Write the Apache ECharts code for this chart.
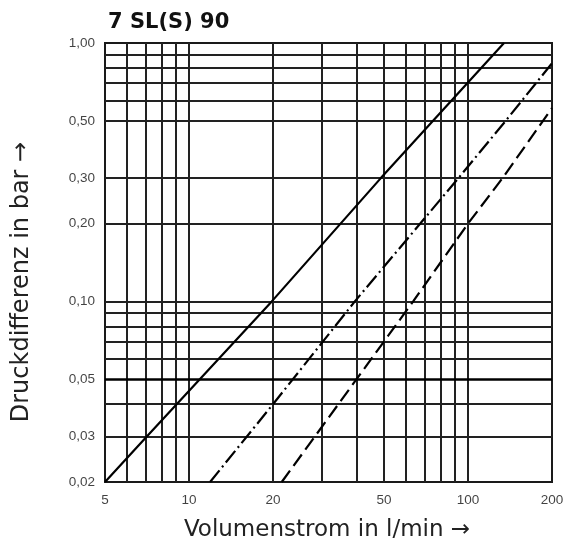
<!DOCTYPE html>
<html><head><meta charset="utf-8">
<script src="https://cdn.jsdelivr.net/npm/echarts@6/dist/echarts.min.js"></script>
<style>html,body{margin:0;padding:0;background:#fff}#c{width:574px;height:555px}</style>
</head><body><div id="c"></div>
<script>
const titleText = '7 SL(S) 90';
const xName = 'Volumenstrom in l/min →';
const yName = 'Druckdifferenz in bar →';
const xGrid = [6,7,8,9,10,20,30,40,50,60,70,80,90,100];
const yGrid = [0.03,0.04,0.06,0.07,0.08,0.09,0.1,0.2,0.3,0.5,0.6,0.7,0.8,0.9];
const yGridBold = [0.05];
const xTickVals = [5,10,20,50,100,200];
const xTickText = ['5','10','20','50','100','200'];
const yTickVals = [0.02,0.03,0.05,0.1,0.2,0.3,0.5,1.0];
const yTickText = ['0,02','0,03','0,05','0,10','0,20','0,30','0,50','1,00'];
const solidQ = [5,7.06,19.8,48.7,134.6];
const solidP = [0.02,0.03,0.1,0.3,1.0];
const dashDotQ = [11.9,20,39.3,92.4,136.5,200];
const dashDotP = [0.02,0.04,0.1,0.3,0.5,0.835];
const dashedQ = [21.5,63.6,100,133,200];
const dashedP = [0.02,0.1,0.2,0.3,0.56];

const chart = echarts.init(document.getElementById('c'));
const pairs = (a,b) => a.map((v,i)=>[v,b[i]]);
const tickFont = {fontFamily:'Liberation Sans', fontSize:13.5, color:'#111'};
const gridLineStyle = {color:'#222', width:2, type:'solid'};
chart.setOption({
  animation:false,
  title:{text:titleText, left:103, top:7, textStyle:{fontFamily:'DejaVu Sans', fontWeight:'bold', fontSize:21, color:'#111'}},
  grid:{left:105, right:22, top:43, bottom:73, show:true, borderColor:'#1a1a1a', borderWidth:2, backgroundColor:'#fff'},
  xAxis:{type:'log', logBase:10, min:5, max:200, axisLine:{show:false}, axisTick:{show:false}, axisLabel:{show:false}, splitLine:{show:false}},
  yAxis:{type:'log', logBase:10, min:0.02, max:1, axisLine:{show:false}, axisTick:{show:false}, axisLabel:{show:false}, splitLine:{show:false}},
  graphic:[
    {type:'text', x:327, y:530, style:{text:xName, fontFamily:'DejaVu Sans', fontSize:23, fill:'#222', align:'center', verticalAlign:'middle'}},
    {type:'text', x:22, y:282, rotation:Math.PI/2, style:{text:yName, fontFamily:'DejaVu Sans', fontSize:24, fill:'#222', align:'center', verticalAlign:'middle'}}
  ],
  series:[
    {type:'line', data:[], z:1, silent:true,
     markLine:{silent:true, symbol:['none','none'], label:{show:false}, lineStyle:gridLineStyle,
       data: xGrid.map(v=>({xAxis:v})).concat(yGrid.map(v=>({yAxis:v})))}},
    {type:'line', data:[], z:1, silent:true,
     markLine:{silent:true, symbol:['none','none'], label:{show:false}, lineStyle:{color:'#000', width:2.6, type:'solid'},
       data: yGridBold.map(v=>({yAxis:v}))}},
    {type:'scatter', symbolSize:0, clip:false, silent:true, z:2,
     data: xTickVals.map((v,i)=>({value:[v,0.02], label:{formatter:xTickText[i]}})),
     label:Object.assign({show:true, position:'bottom', distance:11}, tickFont)},
    {type:'scatter', symbolSize:0, clip:false, silent:true, z:2,
     data: yTickVals.map((v,i)=>({value:[5,v], label:{formatter:yTickText[i]}})),
     label:Object.assign({show:true, position:'left', distance:10}, tickFont)},
    {type:'line', data:pairs(solidQ,solidP), showSymbol:false, z:5, lineStyle:{color:'#000', width:2.2, type:'solid'}},
    {type:'line', data:pairs(dashDotQ,dashDotP), showSymbol:false, z:5, lineStyle:{color:'#000', width:2.2, type:[15,4,2,4]}},
    {type:'line', data:pairs(dashedQ,dashedP), showSymbol:false, z:5, lineStyle:{color:'#000', width:2.2, type:[14,6]}}
  ]
});
</script></body></html>
